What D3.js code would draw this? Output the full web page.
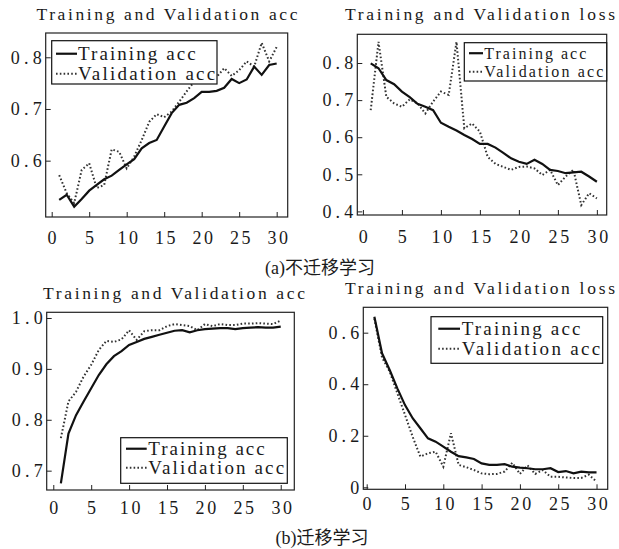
<!DOCTYPE html>
<html>
<head>
<meta charset="utf-8">
<script src="https://cdn.jsdelivr.net/npm/d3@7"></script>
<style>
  body { margin: 0; background: #fff; }
  text { font-family: "Liberation Serif", "DejaVu Serif", serif; fill: #1a1a1a; }
  .cap { font-family: "Liberation Serif", "Noto Sans CJK SC", serif; }
</style>
</head>
<body>
<div class="svg-area"></div>
<script>
// epochs on the x axis
let epochs = [1,2,3,4,5,6,7,8,9,10,11,12,13,14,15,16,17,18,19,20,21,22,23,24,25,26,27,28,29,30];
let xTicks = [0, 5, 10, 15, 20, 25, 30];

// (a) no transfer learning
let accTrainA = [0.524,0.534,0.511,0.526,0.542,0.553,0.564,0.571,0.582,0.593,0.603,0.624,0.634,0.640,0.666,
                 0.692,0.708,0.712,0.721,0.733,0.733,0.735,0.741,0.758,0.750,0.757,0.782,0.766,0.785,0.788];
let accValA   = [0.572,0.537,0.518,0.582,0.595,0.547,0.553,0.622,0.617,0.585,0.608,0.640,0.675,0.690,0.684,
                 0.695,0.714,0.734,0.753,0.751,0.756,0.762,0.779,0.764,0.775,0.792,0.782,0.828,0.792,0.820];
let lossTrainA = [0.799,0.786,0.754,0.743,0.723,0.708,0.690,0.682,0.673,0.639,0.628,0.618,0.606,0.595,0.582,
                  0.582,0.572,0.558,0.543,0.534,0.528,0.539,0.528,0.512,0.509,0.503,0.505,0.507,0.494,0.480];
let lossValA   = [0.673,0.857,0.709,0.691,0.682,0.702,0.691,0.664,0.696,0.723,0.714,0.857,0.624,0.637,0.615,
                  0.547,0.528,0.520,0.512,0.520,0.521,0.516,0.498,0.512,0.471,0.494,0.512,0.417,0.449,0.435];

// (b) transfer learning
let accTrainB = [0.675,0.773,0.809,0.836,0.862,0.888,0.909,0.925,0.935,0.947,0.953,0.959,0.963,0.967,0.971,
                 0.975,0.976,0.972,0.976,0.978,0.979,0.980,0.980,0.978,0.980,0.981,0.982,0.981,0.981,0.983];
let accValB   = [0.764,0.836,0.855,0.885,0.908,0.937,0.955,0.953,0.958,0.976,0.957,0.974,0.976,0.976,0.984,
                 0.988,0.986,0.984,0.976,0.988,0.984,0.988,0.986,0.986,0.989,0.989,0.990,0.989,0.988,0.995];
let lossTrainB = [0.662,0.520,0.455,0.384,0.319,0.268,0.229,0.190,0.177,0.158,0.138,0.121,0.116,0.110,0.093,
                  0.087,0.087,0.090,0.080,0.076,0.074,0.070,0.070,0.074,0.059,0.063,0.054,0.061,0.058,0.058];
let lossValB   = [0.655,0.504,0.449,0.365,0.281,0.196,0.119,0.132,0.138,0.080,0.210,0.087,0.078,0.067,0.054,
                  0.051,0.052,0.061,0.095,0.052,0.085,0.052,0.067,0.041,0.041,0.038,0.036,0.036,0.049,0.022];

let legendLabels = ["Training acc", "Validation acc"];
let titleAcc = "Training and Validation acc";
let titleLoss = "Training and Validation loss";

let svg = d3.select(".svg-area").append("svg")
    .attr("width", 619)
    .attr("height", 549);

// the original uses a monospaced serif face, so stretch serif text to a fixed cell width
function mono(sel, cellW) {
    sel.each(function () {
        let t = d3.select(this);
        let n = t.text().length;
        if (n > 1) t.attr("textLength", n * cellW).attr("lengthAdjust", "spacing");
    });
}

function drawPanel(p) {
    let x = d3.scaleLinear().domain(p.xDom).range([p.left, p.right]);
    let y = d3.scaleLinear().domain(p.yDom).range([p.bottom, p.top]);
    let g = svg.append("g");

    g.append("text")
        .attr("x", p.titleX - p.title.length * p.titleW / 2).attr("y", p.titleY)
        .attr("font-size", 17.5)
        .text(p.title)
        .call(mono, p.titleW);

    let line = d3.line()
        .x(function (d, i) { return x(epochs[i]); })
        .y(function (d) { return y(d); });

    g.append("path").datum(p.val)
        .attr("d", line)
        .attr("fill", "none")
        .attr("stroke", "#333")
        .attr("stroke-width", 2)
        .attr("stroke-dasharray", "1.6,2.2");
    g.append("path").datum(p.train)
        .attr("d", line)
        .attr("fill", "none")
        .attr("stroke", "#111")
        .attr("stroke-width", 2.2);

    let xa = g.append("g")
        .attr("transform", "translate(0," + p.bottom + ")")
        .call(d3.axisBottom(x).tickValues(xTicks).tickSizeInner(-5).tickSizeOuter(0).tickPadding(p.xPad));
    let ya = g.append("g")
        .attr("transform", "translate(" + p.left + ",0)")
        .call(d3.axisLeft(y).tickValues(p.yTicks).tickFormat(p.yFmt).tickSizeInner(-5).tickSizeOuter(0).tickPadding(4));
    [xa, ya].forEach(function (a) {
        a.select(".domain").remove();
        a.selectAll("line").attr("stroke", "#222");
        a.selectAll("text").attr("font-size", 18).attr("fill", "#1a1a1a")
            .style("font-family", "'Liberation Serif', serif")
            .call(mono, 10.3);
    });
    // centre x labels on their cell width
    xa.selectAll("text").attr("text-anchor", "start")
        .attr("x", function () { return -d3.select(this).text().length * 10.3 / 2 + 0.5; });

    g.append("rect")
        .attr("x", p.left).attr("y", p.top)
        .attr("width", p.right - p.left).attr("height", p.bottom - p.top)
        .attr("fill", "none").attr("stroke", "#222").attr("stroke-width", 1.2);

    // legend
    let L = p.legend;
    g.append("rect")
        .attr("x", L.x0).attr("y", L.y0)
        .attr("width", L.x1 - L.x0).attr("height", L.y1 - L.y0)
        .attr("fill", "#fff").attr("stroke", "#111").attr("stroke-width", 1.2);
    legendLabels.forEach(function (lab, i) {
        let base = L.rows[i];
        let ly = base - L.fs * 0.33;
        g.append("line")
            .attr("x1", L.s0).attr("x2", L.s1)
            .attr("y1", ly).attr("y2", ly)
            .attr("stroke", i === 0 ? "#111" : "#333")
            .attr("stroke-width", i === 0 ? 2.2 : 2)
            .attr("stroke-dasharray", i === 0 ? null : "1.6,2.2");
        g.append("text")
            .attr("x", L.tx).attr("y", base)
            .attr("font-size", L.fs)
            .text(lab)
            .call(mono, L.cw);
    });
}

drawPanel({
    title: titleAcc, titleX: 167, titleY: 20, titleW: 9.67,
    train: accTrainA, val: accValA,
    left: 45.7, right: 287.7, top: 33, bottom: 217,
    xDom: [-0.8, 31.47], yDom: [0.491, 0.847],
    yTicks: [0.6, 0.7, 0.8], yFmt: d3.format(".1f"), xPad: 14,
    legend: {x0: 51.7, x1: 217, y0: 40.7, y1: 84, s0: 56, s1: 77, tx: 78, rows: [60, 80], fs: 19, cw: 9.8}
});
drawPanel({
    title: titleLoss, titleX: 480, titleY: 20, titleW: 9.64,
    train: lossTrainA, val: lossValA,
    left: 357.3, right: 606.7, top: 34.3, bottom: 215,
    xDom: [-0.72, 31.26], yDom: [0.3903, 0.8774],
    yTicks: [0.4, 0.5, 0.6, 0.7, 0.8], yFmt: d3.format(".1f"), xPad: 15,
    legend: {x0: 464.3, x1: 606.7, y0: 42.7, y1: 81, s0: 469, s1: 483, tx: 484.3, rows: [58.5, 77], fs: 16, cw: 8.5}
});
drawPanel({
    title: titleAcc, titleX: 174, titleY: 299, titleW: 9.7,
    train: accTrainB, val: accValB,
    left: 46.7, right: 294.3, top: 312.3, bottom: 490,
    xDom: [-0.87, 31.79], yDom: [0.662, 1.0112],
    yTicks: [0.7, 0.8, 0.9, 1.0], yFmt: d3.format(".1f"), xPad: 11,
    legend: {x0: 120.7, x1: 287.3, y0: 437.7, y1: 483.3, s0: 126, s1: 146.7, tx: 148.3, rows: [455, 474], fs: 19, cw: 9.7}
});
drawPanel({
    title: titleLoss, titleX: 480, titleY: 294, titleW: 9.64,
    train: lossTrainB, val: lossValB,
    left: 363.3, right: 607.7, top: 307.3, bottom: 489.3,
    xDom: [-0.444, 31.46], yDom: [-0.00776, 0.6985],
    yTicks: [0, 0.2, 0.4, 0.6], yFmt: function (d) { return d === 0 ? "0" : d3.format(".1f")(d); }, xPad: 8,
    legend: {x0: 431, x1: 602.7, y0: 316.7, y1: 363.3, s0: 438.3, s1: 460, tx: 461.7, rows: [335, 355], fs: 19, cw: 9.9}
});

// captions
svg.append("text").attr("class", "cap")
    .attr("x", 320).attr("y", 274)
    .attr("text-anchor", "middle").attr("font-size", 18)
    .text("(a)不迁移学习");
svg.append("text").attr("class", "cap")
    .attr("x", 322).attr("y", 544)
    .attr("text-anchor", "middle").attr("font-size", 18)
    .text("(b)迁移学习");
</script>
</body>
</html>
